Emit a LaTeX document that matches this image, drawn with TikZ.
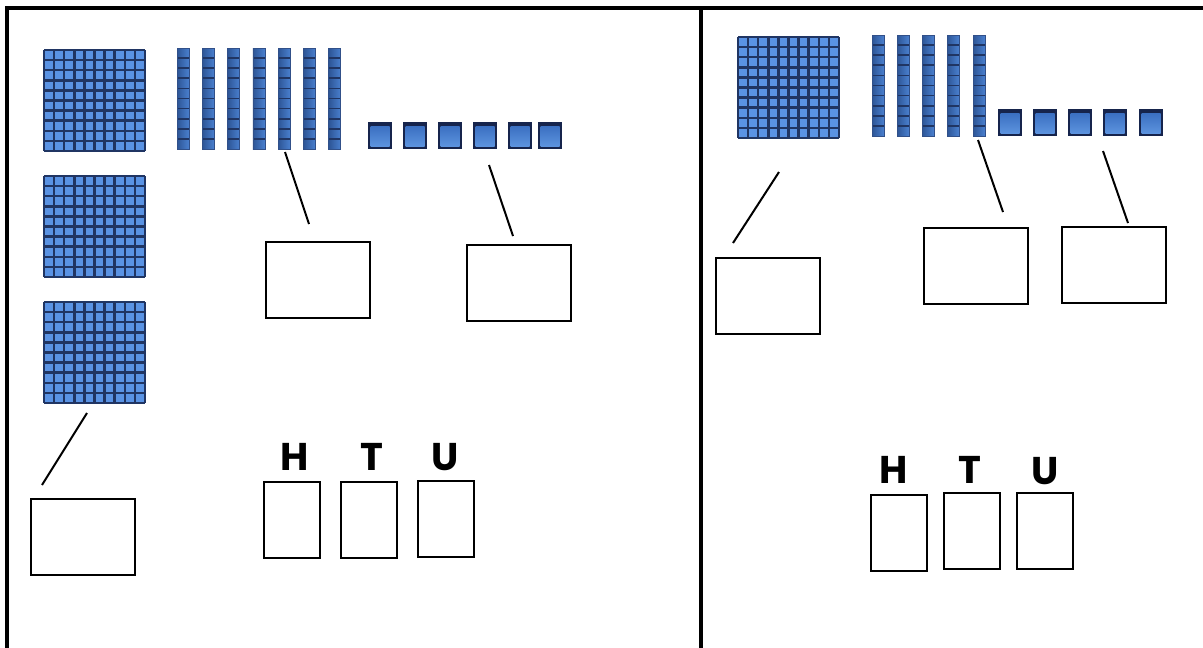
\documentclass[tikz,border=0pt]{standalone}
\usepackage{fontspec}
\newfontfamily\htufont{Poppins}
\definecolor{blk}{HTML}{5A93E4}
\definecolor{navy}{HTML}{16244C}
\definecolor{rodl}{HTML}{2D5596}
\definecolor{rodm}{HTML}{5A95E2}
\definecolor{rodr}{HTML}{4A80CF}
\definecolor{cubet}{HTML}{3B70C2}
\definecolor{cubeb}{HTML}{5C93DE}
\newcommand\HBlock[2]{%
  \begin{scope}[shift={(#1,#2)}]
  \fill[blk] (0,0) rectangle (101,101);
  \draw[gridl] (0,0) -- (0,101) (10.1,0) -- (10.1,101) (20.2,0) -- (20.2,101)
    (30.3,0) -- (30.3,101) (40.4,0) -- (40.4,101) (50.5,0) -- (50.5,101)
    (60.6,0) -- (60.6,101) (70.7,0) -- (70.7,101) (80.8,0) -- (80.8,101)
    (90.9,0) -- (90.9,101) (101,0) -- (101,101);
  \draw[gridl] (0,0) -- (101,0) (0,10.1) -- (101,10.1) (0,20.2) -- (101,20.2)
    (0,30.3) -- (101,30.3) (0,40.4) -- (101,40.4) (0,50.5) -- (101,50.5)
    (0,60.6) -- (101,60.6) (0,70.7) -- (101,70.7) (0,80.8) -- (101,80.8)
    (0,90.9) -- (101,90.9) (0,101) -- (101,101);
  \end{scope}%
}
\newcommand\TRod[2]{%
  \begin{scope}[shift={(#1,#2)}]
  \shade[left color=rodl, middle color=rodm, right color=rodr] (0,0) rectangle (12,101);
  \draw[rodsep] (0,10.1) -- (12,10.1) (0,20.2) -- (12,20.2) (0,30.3) -- (12,30.3)
    (0,40.4) -- (12,40.4) (0,50.5) -- (12,50.5) (0,60.6) -- (12,60.6)
    (0,70.7) -- (12,70.7) (0,80.8) -- (12,80.8) (0,90.9) -- (12,90.9);
  \draw[rodedge] (0,0) rectangle (12,101);
  \end{scope}%
}
\newcommand\OCube[2]{%
  \begin{scope}[shift={(#1,#2)}]
  \fill[navy] (0,0) rectangle (24,27);
  \shade[top color=cubet, bottom color=cubeb] (2.5,4.5) rectangle (21.5,24);
  \end{scope}%
}
\begin{document}
\begin{tikzpicture}[x=0.75pt,y=-0.75pt,
  gridl/.style={draw=navy!85!blk, line width=1.9pt},
  rodsep/.style={draw=navy!85!blk, line width=1.3pt},
  rodedge/.style={draw=navy!60!blk, line width=0.5pt},
  frame/.style={line width=3pt, line cap=rect},
  bigbox/.style={draw, line width=1.5pt, inner sep=0pt, minimum width=78pt, minimum height=57pt},
  digbox/.style={draw, line width=1.5pt, inner sep=0pt, minimum width=42pt, minimum height=57pt},
  lab/.style={inner sep=0pt, font=\htufont\bfseries\fontsize{29}{30}\selectfont},
  lead/.style={line width=1.5pt}]
\useasboundingbox (0,0) rectangle (1203,647);
\fill[white] (0,0) rectangle (1203,647);
% frame
\coordinate (fbl) at (7,650);
\coordinate (ftl) at (7,8);
\coordinate (ftr) at (1206,8);
\coordinate (dtop) at (701,8);
\coordinate (dbot) at (701,650);
\draw[frame] (fbl) -- (ftl) -- (ftr);
\draw[frame] (dtop) -- (dbot);
% ---------- left panel ----------
\HBlock{44}{50}
\HBlock{44}{176}
\HBlock{44}{302}
\TRod{177}{48}\TRod{202.3}{48}\TRod{227.6}{48}\TRod{252.9}{48}
\TRod{278.2}{48}\TRod{303.5}{48}\TRod{328.8}{48}
\OCube{368}{122}\OCube{403}{122}\OCube{438}{122}
\OCube{473}{122}\OCube{508}{122}\OCube{538}{122}
\node[bigbox] (lhbox) at (82.5,537) {};
\node[bigbox] (ltbox) at (318,280) {};
\node[bigbox] (lobox) at (519,282.5) {};
\coordinate (lh1) at (87,413);
\coordinate (lh2) at (42,485);
\coordinate (lt1) at (285,152);
\coordinate (lt2) at (309,224);
\coordinate (lo1) at (489,165);
\coordinate (lo2) at (513,236);
\draw[lead] (lh1) -- (lh2);
\draw[lead] (lt1) -- (lt2);
\draw[lead] (lo1) -- (lo2);
\node[digbox] (lHb) at (292,520) {};
\node[digbox] (lTb) at (369,519.5) {};
\node[digbox] (lUb) at (445.5,519) {};
\node[lab] (lH) at (295,457) {H};
\node[lab] (lT) at (372,457) {T};
\node[lab] (lU) at (445,457) {U};
% ---------- right panel ----------
\HBlock{738}{37}
\TRod{872}{35}\TRod{897}{35}\TRod{922}{35}\TRod{947}{35}\TRod{973}{35}
\OCube{998}{109}\OCube{1033}{109}\OCube{1068}{109}\OCube{1103}{109}\OCube{1139}{109}
\node[bigbox] (rhbox) at (767.5,296) {};
\node[bigbox] (rtbox) at (975.5,266) {};
\node[bigbox] (robox) at (1114,265) {};
\coordinate (rh1) at (779,172);
\coordinate (rh2) at (733,243);
\coordinate (rt1) at (978,140);
\coordinate (rt2) at (1003,212);
\coordinate (ro1) at (1103,151);
\coordinate (ro2) at (1128,223);
\draw[lead] (rh1) -- (rh2);
\draw[lead] (rt1) -- (rt2);
\draw[lead] (ro1) -- (ro2);
\node[digbox] (rHb) at (899,532.5) {};
\node[digbox] (rTb) at (972,531) {};
\node[digbox] (rUb) at (1045,531) {};
\node[lab] (rH) at (894,470) {H};
\node[lab] (rT) at (970,470) {T};
\node[lab] (rU) at (1045,471) {U};
\end{tikzpicture}
\end{document}
